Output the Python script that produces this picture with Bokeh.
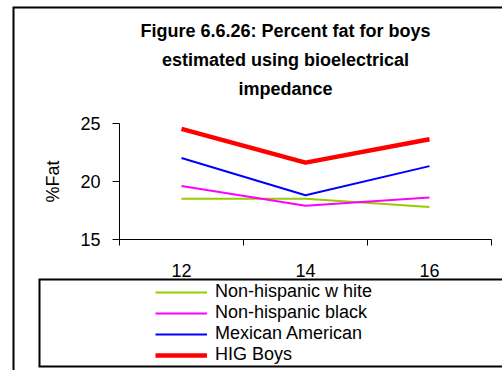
from bokeh.plotting import figure
from bokeh.models import FixedTicker, Legend, LegendItem, Label, BoxAnnotation, Range1d
from bokeh.embed import file_html
from bokeh.resources import INLINE

# Percent body fat by age, boys (bioelectrical impedance)
ages = [12, 14, 16]
nh_white = [18.5, 18.5, 17.8]
nh_black = [19.6, 17.9, 18.6]
mexican_american = [22.0, 18.8, 21.3]
hig_boys = [24.5, 21.6, 23.6]

series_names = ["Non-hispanic w hite", "Non-hispanic black", "Mexican American", "HIG Boys"]
series_values = [nh_white, nh_black, mexican_american, hig_boys]
series_colors = ["#99CC00", "#FF00FF", "#0000FF", "#FF0000"]
series_widths = [2, 2, 2, 4.5]

title_lines = ["Figure 6.6.26: Percent fat for boys",
               "estimated using bioelectrical",
               "impedance"]
y_ticks = [15, 20, 25]
x_minor = [11, 13, 15, 17]
x_bounds = (11, 17)
y_bounds = (15, 25)

FONT = "Liberation Sans"
W, H = 502, 370

# pixel placement of the plotting box inside the page (top-down pixels)
AX_LEFT, AX_RIGHT, AX_TOP, AX_BOTTOM = 119, 491, 122.5, 239
xpx = (AX_RIGHT - AX_LEFT) / (x_bounds[1] - x_bounds[0])
ypx = (AX_BOTTOM - AX_TOP) / (y_bounds[1] - y_bounds[0])
x_range = Range1d(x_bounds[0] - AX_LEFT / xpx, x_bounds[1] + (W - AX_RIGHT) / xpx)
y_range = Range1d(y_bounds[0] - (H - AX_BOTTOM) / ypx, y_bounds[1] + AX_TOP / ypx)


def up(y_top):
    """Screen units here count upward from the bottom edge."""
    return H - y_top


def screen_box(left, top, right, bottom, color, level="annotation"):
    """Filled rectangle in page pixels (top/bottom given top-down)."""
    return BoxAnnotation(left=left, right=right, top=up(top), bottom=up(bottom),
                         left_units="screen", right_units="screen",
                         top_units="screen", bottom_units="screen",
                         fill_color=color, fill_alpha=1, line_alpha=0, level=level)


p = figure(width=W, height=H, output_backend="svg", toolbar_location=None,
           x_range=x_range, y_range=y_range,
           min_border_left=0, min_border_right=0, min_border_top=0, min_border_bottom=0)
p.title = None
p.outline_line_color = None
p.grid.visible = False
p.background_fill_color = "white"
p.border_fill_color = "white"

# outer chart frame: black sheet with a white inset, left/top edges visible
p.add_layout(screen_box(12, 6, W + 60, H + 60, "black", level="underlay"))
p.add_layout(screen_box(14, 8, W + 60, H + 60, "white", level="underlay"))

xa = p.xaxis[0]
xa.fixed_location = y_bounds[0]
xa.bounds = x_bounds
xa.ticker = FixedTicker(ticks=ages, minor_ticks=x_minor)
xa.major_tick_out = 0
xa.major_tick_in = 0
xa.minor_tick_out = 6
xa.minor_tick_in = 0
xa.major_label_standoff = 18
xa.major_label_text_font = FONT
xa.major_label_text_font_size = "18px"
xa.major_label_text_color = "black"
xa.axis_line_color = "black"
xa.minor_tick_line_color = "black"

ya = p.yaxis[0]
ya.fixed_location = x_bounds[0]
ya.bounds = y_bounds
ya.ticker = FixedTicker(ticks=y_ticks, minor_ticks=[])
ya.major_tick_out = 7
ya.major_tick_in = 0
ya.major_label_standoff = 12
ya.major_label_text_font = FONT
ya.major_label_text_font_size = "18px"
ya.major_label_text_color = "black"
ya.axis_label = "%Fat"
ya.axis_label_text_font = FONT
ya.axis_label_text_font_size = "18px"
ya.axis_label_text_font_style = "normal"
ya.axis_label_text_color = "black"
ya.axis_label_standoff = 14
ya.axis_line_color = "black"
ya.major_tick_line_color = "black"

renderers = []
for vals, col, w in zip(series_values, series_colors, series_widths):
    r = p.line(ages, vals, line_color=col, line_width=w)
    renderers.append(r)

# title block
for i, line in enumerate(title_lines):
    p.add_layout(Label(x=285, y=up(30 + 29 * i), x_units="screen", y_units="screen",
                       text=line, text_align="center", text_baseline="middle",
                       text_font=FONT, text_font_size="18px", text_font_style="bold",
                       text_color="black"))

# legend box (black border, white inside), drawn over the lower part of the tick labels
p.add_layout(screen_box(38, 278, W + 60, 367, "black"))
p.add_layout(screen_box(40, 280, W + 60, 365, "white"))

legend = Legend(items=[LegendItem(label=n, renderers=[r]) for n, r in zip(series_names, renderers)],
                location=(155, up(365)), orientation="vertical",
                label_text_font=FONT, label_text_font_size="18px", label_text_color="black",
                label_height=20, glyph_height=20, glyph_width=52, label_standoff=8,
                spacing=0, padding=0, margin=0,
                border_line_alpha=0, background_fill_alpha=0)
p.add_layout(legend, "center")

open("out.html", "w").write(file_html(p, INLINE))
